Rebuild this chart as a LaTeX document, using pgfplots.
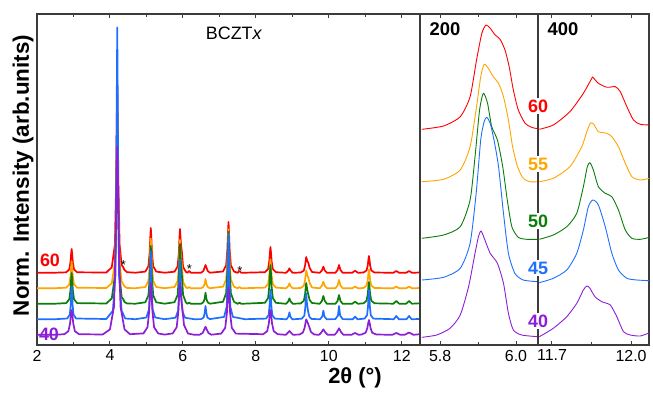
\documentclass[border=0pt]{standalone}
\usepackage{fontspec}
\setmainfont{Liberation Sans}
\usepackage{pgfplots}
\pgfplotsset{compat=1.18}
\definecolor{cred}{HTML}{FF0000}
\definecolor{corange}{HTML}{FFA500}
\definecolor{cgreen}{HTML}{0A7D0A}
\definecolor{cblue}{HTML}{1F6FFF}
\definecolor{cpurple}{HTML}{8C1FD6}
\definecolor{axgray}{HTML}{3C3C3C}
\pgfplotsset{
  base/.style={scale only axis, anchor=south west, ymin=0, ymax=331, ytick=\empty,
    axis line style={axgray, line width=1.2bp}, tick style={axgray, line width=1bp},
    major tick length=4.5bp, minor tick length=3bp,
    tick label style={font=\fontsize{16}{18}\selectfont},
    xticklabel style={yshift=-1.5bp},
    /pgf/number format/assume math mode=true, clip=true},
  lw/.style={line width=1.7bp, line join=round},
  rw/.style={line width=0.9bp, line join=round},
}
\begin{document}
\begin{tikzpicture}[x=1bp,y=1bp]
\useasboundingbox (0,0) rectangle (653,392);
% ---------------- left panel ----------------
\begin{axis}[base, at={(37bp,47bp)}, width=383bp, height=331bp,
  xmin=2, xmax=12.5, xtick={2,4,6,8,10,12}, minor xtick={3,5,7,9,11}]
\addplot[cred, lw] coordinates {(2,72.3)(2.5,72.3)
(2.80,72.7)(2.885,75.6)(2.918,82.8)(2.936,91.2)(2.95,96)(2.964,91.2)(2.982,82.8)(3.015,75.6)(3.10,72.7)(3.9,72.5)
(4.05,77.7)(4.135,100.5)(4.168,157.5)(4.186,224)(4.2,262)(4.214,224)(4.232,157.5)(4.265,100.5)(4.32,80)(4.36,78)(4.40,75)(4.47,72.8)(4.7,72.3)
(4.97,73.4)(5.055,78.8)(5.088,92.3)(5.106,108)(5.12,117)(5.134,108)(5.152,92.3)(5.185,78.8)(5.27,73.4)(5.5,72.3)
(5.77,73.3)(5.855,78.6)(5.888,91.8)(5.906,107.2)(5.92,116)(5.935,107)(5.95,100)(5.975,92)(6.005,78)(6.08,73.3)
(6.12,72.2)(6.17,74)(6.22,72.2)
(6.50,72.3)(6.56,74)(6.595,77.5)(6.62,80)(6.645,77.5)(6.68,74)(6.74,72.3)
(7.10,73.5)(7.185,79.7)(7.218,95)(7.236,112.8)(7.25,123)(7.264,112.8)(7.282,95)(7.315,79.7)(7.40,73.5)
(7.50,72.2)(7.55,74)(7.60,72.2)
(8.25,72.8)(8.335,75.9)(8.368,83.7)(8.386,92.8)(8.40,98)(8.414,92.8)(8.432,83.7)(8.465,75.9)(8.55,72.8)
(8.83,72.2)(8.89,74.5)(8.92,76.7)(8.95,74.5)(9.01,72.2)
(9.23,72.5)(9.315,74.4)(9.348,79.2)(9.38,88)(9.41,84)(9.44,82)(9.475,77)(9.54,73)
(9.75,72.2)(9.81,74.5)(9.85,78.3)(9.89,74.5)(9.95,72.2)
(10.18,72.2)(10.24,75)(10.28,80)(10.32,75)(10.38,72.2)
(10.64,72.2)(10.72,74.3)(10.80,72.2)
(10.95,72.5)(11.035,74.5)(11.068,79.7)(11.086,85.6)(11.10,89)(11.114,85.6)(11.132,79.7)(11.165,74.5)(11.25,72.5)
(11.77,72.2)(11.85,74)(11.93,72.2)
(12.12,72.2)(12.2,74)(12.28,72.2)(12.5,72.5)};
\addplot[corange, lw] coordinates {(2,56.8)(2.5,56.8)
(2.80,57.3)(2.885,60.6)(2.918,68.7)(2.936,78.1)(2.95,83.5)(2.964,78.1)(2.982,68.7)(3.015,60.6)(3.10,57.3)(3.9,57)
(4.05,61.7)(4.135,82.3)(4.168,133.9)(4.186,194.1)(4.2,228.5)(4.214,194.1)(4.232,133.9)(4.265,82.3)(4.32,63.5)(4.36,61)(4.40,58.5)(4.47,57)(4.7,56.8)
(4.97,58)(5.055,64)(5.088,79)(5.106,96.5)(5.12,106.5)(5.134,96.5)(5.152,79)(5.185,64)(5.27,58)(5.5,56.8)
(5.77,58)(5.855,63.8)(5.888,78.3)(5.906,95.3)(5.92,105)(5.935,95)(5.95,88)(5.975,79)(6.005,63)(6.08,58)
(6.12,56.7)(6.17,58)(6.22,56.7)
(6.50,56.8)(6.56,58)(6.595,61)(6.62,66)(6.645,61)(6.68,58)(6.74,56.8)
(7.10,58.3)(7.185,65.4)(7.218,83)(7.236,103.7)(7.25,115.5)(7.264,103.7)(7.282,83)(7.315,65.4)(7.40,58.3)
(7.50,56.7)(7.55,58)(7.60,56.7)
(8.25,57.4)(8.335,60.9)(8.368,69.6)(8.386,79.7)(8.40,85.5)(8.414,79.7)(8.432,69.6)(8.465,60.9)(8.55,57.4)
(8.83,56.7)(8.89,59)(8.92,61.7)(8.95,59)(9.01,56.7)
(9.23,57)(9.315,59.2)(9.348,64.6)(9.38,74.5)(9.41,70)(9.44,67)(9.475,62)(9.54,57.5)
(9.75,56.7)(9.81,59.3)(9.85,63.3)(9.89,59.3)(9.95,56.7)
(10.18,56.7)(10.24,59.5)(10.28,65)(10.32,59.5)(10.38,56.7)
(10.64,56.7)(10.72,58.5)(10.80,56.7)
(10.95,57)(11.035,59.4)(11.068,65)(11.086,71.7)(11.10,75.5)(11.114,71.7)(11.132,65)(11.165,59.4)(11.25,57)
(11.77,56.7)(11.85,58.5)(11.93,56.7)
(12.12,56.7)(12.2,58.5)(12.28,56.7)(12.5,57)};
\addplot[cgreen, lw] coordinates {(2,41.3)(2.5,41.3)
(2.80,41.9)(2.885,45.7)(2.918,55)(2.936,65.8)(2.95,72)(2.964,65.8)(2.982,55)(3.015,45.7)(3.10,41.9)(3.9,41.5)
(4.05,46.6)(4.135,68.9)(4.168,124.7)(4.186,189.8)(4.2,227)(4.214,189.8)(4.232,124.7)(4.265,68.9)(4.32,48)(4.36,46)(4.40,43)(4.47,41.5)(4.7,41.3)
(4.97,42.7)(5.055,49.7)(5.088,67.1)(5.106,87.4)(5.12,99)(5.134,87.4)(5.152,67.1)(5.185,49.7)(5.27,42.7)(5.5,41.3)
(5.77,42.8)(5.855,50)(5.888,68)(5.906,89)(5.92,101)(5.935,89)(5.95,80)(5.975,68)(6.005,50)(6.08,42.8)
(6.12,41.2)(6.17,42.3)(6.22,41.2)
(6.50,41.3)(6.56,42.7)(6.595,46)(6.62,52.3)(6.645,46)(6.68,42.7)(6.74,41.3)
(7.10,43.2)(7.185,51.8)(7.218,73.4)(7.236,98.6)(7.25,113)(7.264,98.6)(7.282,73.4)(7.315,51.8)(7.40,43.2)
(7.50,41.2)(7.55,42.3)(7.60,41.2)
(8.25,42.2)(8.335,46.9)(8.368,58.6)(8.386,72.2)(8.40,80)(8.414,72.2)(8.432,58.6)(8.465,46.9)(8.55,42.2)
(8.83,41.2)(8.89,43.8)(8.92,46.7)(8.95,43.8)(9.01,41.2)
(9.23,41.6)(9.315,44.2)(9.348,50.5)(9.38,62)(9.41,55)(9.44,50)(9.475,45)(9.54,42)
(9.75,41.2)(9.81,44)(9.85,49)(9.89,44)(9.95,41.2)
(10.18,41.2)(10.24,44)(10.28,50)(10.32,44)(10.38,41.2)
(10.64,41.2)(10.72,43.3)(10.80,41.2)
(10.95,41.7)(11.035,44.3)(11.068,50.9)(11.086,58.6)(11.10,63)(11.114,58.6)(11.132,50.9)(11.165,44.3)(11.25,41.7)
(11.77,41.3)(11.85,44)(11.93,41.3)
(12.12,41.3)(12.2,44)(12.28,41.3)(12.5,41.7)};
\addplot[cblue, lw] coordinates {(2,25.8)(2.5,25.8)
(2.83,26.5)(2.90,30.5)(2.925,40.4)(2.939,51.9)(2.95,58.5)(2.961,51.9)(2.975,40.4)(3.00,30.5)(3.07,26.5)(3.9,26)
(4.08,34.3)(4.15,69.3)(4.175,157)(4.189,259.1)(4.2,317.5)(4.211,259.1)(4.225,157)(4.25,69.3)(4.32,34.3)(4.42,26.5)(4.7,25.8)
(5.00,27.5)(5.07,35.7)(5.095,56.1)(5.109,79.9)(5.12,93.5)(5.131,79.9)(5.145,56.1)(5.17,35.7)(5.24,27.5)(5.5,25.8)
(5.80,27.3)(5.87,34.5)(5.895,52.5)(5.909,73.5)(5.92,85.5)(5.932,73)(5.945,58)(5.965,42)(5.99,33)(6.06,27.3)(6.3,25.8)
(6.50,25.9)(6.57,27.5)(6.595,31.6)(6.62,39)(6.645,31.6)(6.67,27.5)(6.74,25.9)
(7.13,28.1)(7.20,38.4)(7.225,64.2)(7.239,94.3)(7.25,111.5)(7.261,94.3)(7.275,64.2)(7.30,38.4)(7.37,28.1)(7.7,25.8)
(8.28,26.4)(8.35,30)(8.375,39)(8.389,49.5)(8.40,55.5)(8.411,49.5)(8.425,39)(8.45,30)(8.52,26.4)
(8.84,25.7)(8.895,28.5)(8.92,32.7)(8.945,28.5)(9.00,25.7)
(9.26,26.3)(9.33,29.4)(9.355,37.2)(9.369,46.3)(9.38,51.5)(9.40,42)(9.435,33)(9.47,28)(9.53,26)
(9.76,25.8)(9.82,28.5)(9.85,34.3)(9.88,28.5)(9.94,25.8)
(10.18,25.9)(10.25,29.5)(10.28,39)(10.31,29.5)(10.38,25.9)
(10.65,25.7)(10.72,28.3)(10.79,25.7)
(10.98,26.4)(11.05,29.9)(11.075,38.8)(11.089,49.1)(11.10,55)(11.111,49.1)(11.125,38.8)(11.15,29.9)(11.22,26.4)
(11.78,25.8)(11.85,29)(11.92,25.8)
(12.13,25.8)(12.2,29)(12.27,25.8)(12.5,26)};
\addplot[cpurple, lw] coordinates {(2,10.3)(2.5,10.3)
(2.75,10.8)(2.86,13.8)(2.905,21.3)(2.93,30)(2.95,35)(2.97,30)(2.995,21.3)(3.04,13.8)(3.15,10.8)(3.8,10.5)
(4.0,15.6)(4.11,38.2)(4.155,94.6)(4.18,160.4)(4.2,198)(4.22,160.4)(4.245,94.6)(4.29,38.2)(4.40,15.6)(4.55,10.8)
(4.92,11.6)(5.03,17.8)(5.075,33.4)(5.10,51.6)(5.12,62)(5.14,51.6)(5.165,33.4)(5.21,17.8)(5.32,11.6)(5.5,10.4)
(5.72,11.6)(5.83,17.8)(5.875,33.4)(5.90,51.6)(5.92,62)(5.94,51)(5.96,45)(5.99,35)(6.03,20)(6.14,11.5)(6.3,10.3)
(6.46,10.3)(6.54,12)(6.58,15)(6.62,18.3)(6.66,15)(6.70,12)(6.78,10.3)
(7.05,11.4)(7.16,17.2)(7.205,31.6)(7.23,48.4)(7.25,58)(7.27,48.4)(7.295,31.6)(7.34,17.2)(7.45,11.4)
(8.20,10.8)(8.31,13.8)(8.355,21.3)(8.38,30)(8.40,35)(8.42,30)(8.445,21.3)(8.49,13.8)(8.60,10.8)
(8.82,10.2)(8.87,12)(8.92,14)(8.97,12)(9.02,10.2)
(9.20,10.5)(9.29,12.5)(9.335,17)(9.38,25.7)(9.425,22)(9.465,18)(9.51,13)(9.60,10.5)
(9.73,10.2)(9.79,12.3)(9.85,15.7)(9.91,12.3)(9.97,10.2)
(10.16,10.2)(10.22,12.7)(10.28,16.7)(10.34,12.7)(10.40,10.2)
(10.62,10.2)(10.72,12)(10.82,10.2)
(10.90,10.5)(11.01,12.3)(11.055,16.8)(11.08,22)(11.10,25)(11.12,22)(11.145,16.8)(11.19,12.3)(11.30,10.5)
(11.74,10.2)(11.85,12)(11.96,10.2)
(12.08,10.2)(12.2,12.5)(12.32,10.2)(12.5,10.8)};
\node[font=\fontsize{13}{13}\selectfont] at (axis cs:4.37,80) {*};
\node[font=\fontsize{13}{13}\selectfont] at (axis cs:6.18,76) {*};
\node[font=\fontsize{13}{13}\selectfont] at (axis cs:7.56,74) {*};
\end{axis}
% ---------------- right panel A (200) ----------------
\begin{axis}[base, at={(420bp,47bp)}, width=118bp, height=331bp,
  xmin=5.747, xmax=6.058, xtick={5.8,6.0}, xticklabels={5.8,6.0}, minor xtick={5.9}]
\addplot[cred, rw, smooth, tension=0.4] coordinates {(5.752,215.7)(5.809,219)(5.853,228.3)(5.879,248.3)(5.896,285)(5.910,311.7)(5.921,320)(5.932,316.7)(5.945,310)(5.958,305.7)(5.971,295)(5.982,278.3)(5.993,255)(6.006,235)(6.024,221.7)(6.041,217.7)(6.057,216.3)};
\addplot[corange, rw, smooth, tension=0.4] coordinates {(5.752,163.3)(5.809,165.7)(5.853,175)(5.879,198.3)(5.896,238.3)(5.907,268.3)(5.916,280.7)(5.927,276.7)(5.940,268.3)(5.954,261.7)(5.967,248.3)(5.980,225)(5.991,198.3)(6.004,178.3)(6.019,166.7)(6.037,163.3)(6.057,163.3)};
\addplot[cgreen, rw, smooth, tension=0.4] coordinates {(5.752,106.7)(5.809,110)(5.853,118.3)(5.879,145)(5.892,188.3)(5.904,235)(5.914,251.7)(5.925,241.7)(5.936,218.3)(5.951,205)(5.965,178.3)(5.977,145)(5.989,118.3)(6.006,107.7)(6.028,105.7)(6.057,105.7)};
\addplot[cblue, rw, smooth, tension=0.4] coordinates {(5.752,65)(5.809,67.7)(5.853,76.7)(5.879,101.7)(5.895,151.7)(5.907,205)(5.916,223.3)(5.923,227.7)(5.932,221.7)(5.942,205)(5.954,178.3)(5.967,131.7)(5.980,91.7)(5.997,71.7)(6.019,65)(6.057,63.3)};
\addplot[cpurple, rw, smooth, tension=0.4] coordinates {(5.752,7.7)(5.791,10)(5.826,16.7)(5.853,30)(5.875,58.3)(5.892,91.7)(5.901,108.3)(5.908,114)(5.918,105)(5.932,91.7)(5.951,81.7)(5.967,61.7)(5.980,31.7)(5.993,15)(6.015,10)(6.057,8.3)};
\end{axis}
% ---------------- right panel B (400) ----------------
\begin{axis}[base, at={(538bp,47bp)}, width=111bp, height=331bp,
  xmin=11.647, xmax=12.068, xtick={11.7,12.0}, xticklabels={11.7,12.0}, minor xtick={11.85}]
\addplot[cred, rw, smooth, tension=0.4] coordinates {(11.652,215.7)(11.705,220)(11.768,233.3)(11.819,251.7)(11.851,266.7)(11.855,267.7)(11.876,261.7)(11.908,257.7)(11.940,258.3)(11.959,253.3)(11.984,238.3)(12.009,225)(12.035,220.7)(12.070,220)};
\addplot[corange, rw, smooth, tension=0.4] coordinates {(11.652,163.3)(11.705,166.7)(11.768,178.3)(11.813,198.3)(11.832,213.3)(11.847,222.3)(11.860,220)(11.876,213.3)(11.908,211.7)(11.927,208.3)(11.952,198.3)(11.978,181.7)(12.003,168.3)(12.035,165)(12.070,166.7)};
\addplot[cgreen, rw, smooth, tension=0.4] coordinates {(11.652,105.7)(11.705,110)(11.756,118.3)(11.794,131.7)(11.819,158.3)(11.834,178.3)(11.844,182.3)(11.857,175)(11.876,158.3)(11.902,151.7)(11.927,148.3)(11.952,135)(11.978,115)(12.003,106.7)(12.035,105.7)(12.070,107.7)};
\addplot[cblue, rw, smooth, tension=0.4] coordinates {(11.652,62.3)(11.705,66.7)(11.756,75)(11.794,91.7)(11.819,115)(11.838,138.3)(11.855,145)(11.876,140)(11.902,118.3)(11.927,91.7)(11.952,75)(11.984,66.7)(12.022,65)(12.070,64.3)};
\addplot[cpurple, rw, smooth, tension=0.4] coordinates {(11.652,8.3)(11.705,16.7)(11.756,28.3)(11.794,41.7)(11.819,55)(11.832,59)(11.844,56.7)(11.863,48.3)(11.889,43.3)(11.921,40)(11.946,28.3)(11.971,13.3)(11.997,10)(12.035,9)(12.070,12.3)};
\end{axis}
% ---------------- labels ----------------
\node[rotate=90, font=\bfseries\fontsize{22.5}{24}\selectfont] at (23,216.5) {Norm. Intensity (arb.units)};
\node[font=\bfseries\fontsize{22}{24}\selectfont] at (355,14) {2θ (°)};
\node[font=\fontsize{18}{20}\selectfont] at (234,358.5) {BCZT\textit{x}};
\node[font=\bfseries\fontsize{18.5}{20}\selectfont] at (445,363) {200};
\node[font=\bfseries\fontsize{18.5}{20}\selectfont] at (563,363) {400};
\node[font=\bfseries\fontsize{18}{20}\selectfont, text=cred] at (50,132) {60};
\node[font=\bfseries\fontsize{18}{20}\selectfont, text=cpurple] at (49,58) {40};
\begin{scope}[every node/.style={fill=white, inner sep=1.5bp, font=\bfseries\fontsize{18}{20}\selectfont}]
\node[text=cred] at (538,286) {60};
\node[text=corange] at (538,228) {55};
\node[text=cgreen] at (538,171) {50};
\node[text=cblue] at (538,124) {45};
\node[text=cpurple] at (538,71) {40};
\end{scope}
\end{tikzpicture}
\end{document}
